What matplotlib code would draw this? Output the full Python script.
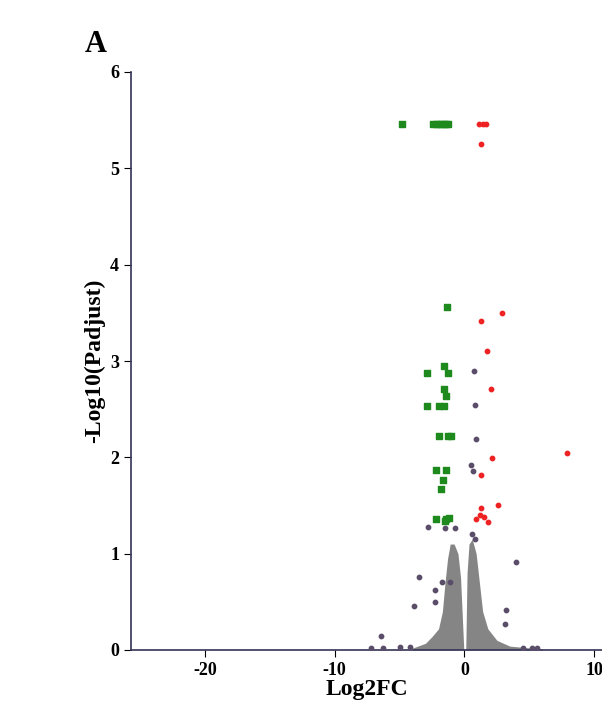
import matplotlib
matplotlib.use('Agg')
import matplotlib.pyplot as plt

plt.rcParams['font.family'] = 'Liberation Serif'
plt.rcParams['font.weight'] = 'bold'
plt.rcParams['axes.unicode_minus'] = False

# significant down-regulated (green)
down_x = [-4.8, -2.4, -2.2, -2.0, -1.8, -1.6, -1.4, -1.25, -1.33, -2.85, -1.6, -1.29, -1.6, -1.41,
          -2.85, -1.95, -1.56, -1.95, -1.3, -1.05, -2.2, -1.41, -1.67, -1.8, -2.2, -1.4, -1.2, -1.5]
down_y = [5.46, 5.46, 5.46, 5.46, 5.46, 5.46, 5.46, 5.46, 3.56, 2.88, 2.95, 2.88, 2.71, 2.64,
          2.53, 2.53, 2.53, 2.22, 2.22, 2.22, 1.87, 1.87, 1.76, 1.67, 1.36, 1.36, 1.37, 1.34]

# significant up-regulated (red)
up_x = [1.1, 1.4, 1.65, 1.3, 2.92, 1.27, 1.7, 2.05, 7.9, 2.1, 1.28, 2.6, 1.27, 0.9, 1.2, 1.5, 1.8]
up_y = [5.46, 5.46, 5.46, 5.25, 3.5, 3.42, 3.1, 2.71, 2.04, 1.99, 1.82, 1.51, 1.47, 1.36, 1.4, 1.38, 1.33]

# non-significant outliers
ns_x = [0.7, 0.85, 0.9, 0.47, 0.62, -2.8, -0.7, -1.5, 4.0, -3.5, -1.7, -1.1, -2.3, -3.9, -2.3,
        3.1, -6.4, 3.2, 0.6, 0.8, -7.2, -6.3, 4.5, 5.2, 5.6, -5.0, -4.2]
ns_y = [2.9, 2.54, 2.19, 1.92, 1.86, 1.28, 1.27, 1.27, 0.91, 0.76, 0.71, 0.71, 0.62, 0.46, 0.5,
        0.27, 0.15, 0.42, 1.2, 1.15, 0.02, 0.02, 0.02, 0.02, 0.02, 0.03, 0.03]

# envelope of the dense non-significant cloud
left_x = [-4.0, -3.0, -2.5, -2.0, -1.7, -1.5, -1.3, -1.1, -0.8, -0.5, -0.3, -0.15, -0.05]
left_h = [0.02, 0.07, 0.14, 0.22, 0.4, 0.7, 0.95, 1.1, 1.1, 1.0, 0.75, 0.3, 0.0]
right_x = [0.1, 0.2, 0.35, 0.6, 0.9, 1.15, 1.4, 1.8, 2.5, 3.5, 6.0]
right_h = [0.0, 0.8, 1.1, 1.15, 1.0, 0.7, 0.4, 0.22, 0.1, 0.04, 0.01]

fig = plt.figure(figsize=(6.02, 7.18), dpi=100)
ax = fig.add_axes([131 / 602, 1 - 650 / 718, 1 - 131 / 602, (650 - 72) / 718])

ax.fill_between(left_x, 0, left_h, color='#858585', lw=0)
ax.fill_between(right_x, 0, right_h, color='#858585', lw=0)
ax.scatter(ns_x, ns_y, s=10, color='#5a4d6a', zorder=3)
ax.scatter(down_x, down_y, s=14, marker='s', color='#1e8a1e', zorder=3)
ax.scatter(up_x, up_y, s=10, color='#ee2222', zorder=3)

ax.set_xlim(-25.7, 10.6)
ax.set_ylim(0, 6)
ax.set_xticks([-20, -10, 0, 10])
ax.set_yticks(range(7))
for s in ['top', 'right']:
    ax.spines[s].set_visible(False)
for s in ['left', 'bottom']:
    ax.spines[s].set_color('#333355')
    ax.spines[s].set_linewidth(1.2)
ax.tick_params(direction='out', length=5, labelsize=13, colors='black')
ax.set_xlabel('Log2FC', fontsize=17, fontweight='bold', labelpad=0)
ax.set_ylabel('-Log10(Padjust)', fontsize=17, fontweight='bold')
fig.text(85 / 602, 1 - 45 / 718, 'A', fontsize=22, fontweight='bold', va='center')

fig.savefig('out.png', dpi=100)
